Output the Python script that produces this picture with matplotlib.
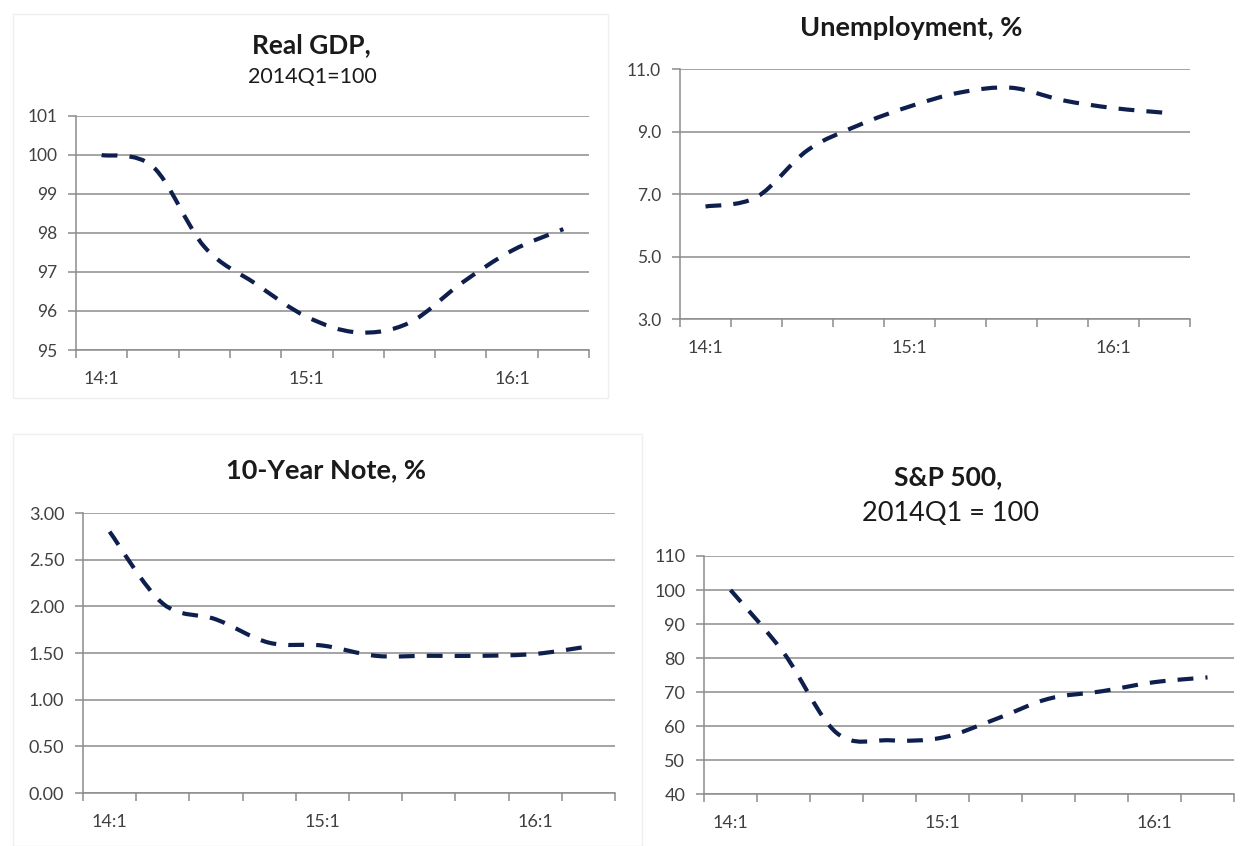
import matplotlib
matplotlib.use("Agg")
import matplotlib.pyplot as plt
from matplotlib.path import Path
from matplotlib.patches import PathPatch, Rectangle
from matplotlib.ticker import FixedLocator, NullFormatter, FixedFormatter

plt.rcParams['font.family'] = ['Lato', 'DejaVu Sans']

quarters = ["14:1", "14:2", "14:3", "14:4", "15:1", "15:2", "15:3", "15:4", "16:1", "16:2"]
label_quarters = ["14:1", "15:1", "16:1"]

gdp = [100.0, 99.7, 97.65, 96.7, 95.85, 95.45, 95.7, 96.7, 97.55, 98.1]
unemployment = [6.6, 6.9, 8.4, 9.2, 9.8, 10.25, 10.4, 10.0, 9.75, 9.6]
note10 = [2.80, 2.03, 1.86, 1.61, 1.58, 1.47, 1.47, 1.47, 1.49, 1.57]
sp500 = [100.0, 81.6, 58.0, 55.8, 56.6, 62.0, 68.0, 70.2, 72.9, 74.3]

W, H = 1248, 846
fig = plt.figure(figsize=(W / 100, H / 100), dpi=100)
fig.patch.set_facecolor("white")

LINE_COLOR = "#0f1f4d"
GRID_COLOR = "#8c8c8c"
TICK_COLOR = "#404040"


def px_axes(x0, y0, x1, y1):
    return fig.add_axes([x0 / W, 1 - y1 / H, (x1 - x0) / W, (y1 - y0) / H])


def smooth_path(xs, ys):
    pts = list(zip(xs, ys))
    n = len(pts)
    verts = [pts[0]]
    codes = [Path.MOVETO]
    for i in range(n - 1):
        p0 = pts[i - 1] if i > 0 else pts[i]
        p1 = pts[i]
        p2 = pts[i + 1]
        p3 = pts[i + 2] if i + 2 < n else pts[i + 1]
        c1 = (p1[0] + (p2[0] - p0[0]) / 6, p1[1] + (p2[1] - p0[1]) / 6)
        c2 = (p2[0] - (p3[0] - p1[0]) / 6, p2[1] - (p3[1] - p1[1]) / 6)
        verts += [c1, c2, p2]
        codes += [Path.CURVE4] * 3
    return Path(verts, codes)


def panel(box, values, yticks, ylabels, ytick_size, xtick_size):
    ax = px_axes(*box)
    n = len(quarters)
    xs = list(range(n))
    ax.set_xlim(-0.5, n - 0.5)
    ax.set_ylim(yticks[0], yticks[-1])
    patch = PathPatch(smooth_path(xs, values), fill=False, edgecolor=LINE_COLOR,
                      linewidth=3.0, linestyle=(0, (3.8, 2.9)), capstyle='butt',
                      clip_on=False, zorder=3)
    ax.add_patch(patch)
    for s in ["top", "right"]:
        ax.spines[s].set_visible(False)
    for s in ["left", "bottom"]:
        ax.spines[s].set_color(GRID_COLOR)
        ax.spines[s].set_linewidth(1.1)
    ax.set_yticks(yticks)
    ax.set_yticklabels(ylabels)
    ax.yaxis.grid(True, color=GRID_COLOR, linewidth=1.1)
    ax.set_axisbelow(True)
    ax.tick_params(axis='y', length=5.5, width=1.1, color=GRID_COLOR,
                   labelsize=ytick_size, labelcolor=TICK_COLOR, pad=8)
    bounds = [i - 0.5 for i in range(n + 1)]
    ax.xaxis.set_major_locator(FixedLocator(bounds))
    ax.xaxis.set_major_formatter(NullFormatter())
    lab_pos = [quarters.index(q) for q in label_quarters]
    ax.xaxis.set_minor_locator(FixedLocator(lab_pos))
    ax.xaxis.set_minor_formatter(FixedFormatter(label_quarters))
    ax.tick_params(axis='x', which='major', length=6, width=1.1, color=GRID_COLOR)
    ax.tick_params(axis='x', which='minor', length=0, labelsize=xtick_size,
                   labelcolor=TICK_COLOR, pad=15)
    return ax


panel((76, 116, 589, 350), gdp, [95, 96, 97, 98, 99, 100, 101],
      ["95", "96", "97", "98", "99", "100", "101"], 12.5, 13)
panel((680, 69, 1190, 319), unemployment, [3.0, 5.0, 7.0, 9.0, 11.0],
      ["3.0", "5.0", "7.0", "9.0", "11.0"], 12.5, 13)
panel((83, 513, 615, 793), note10, [0.0, 0.5, 1.0, 1.5, 2.0, 2.5, 3.0],
      ["0.00", "0.50", "1.00", "1.50", "2.00", "2.50", "3.00"], 13, 13)
panel((704, 556, 1234, 794), sp500, [40, 50, 60, 70, 80, 90, 100, 110],
      ["40", "50", "60", "70", "80", "90", "100", "110"], 13, 13)


def ftext(x, y, s, **kw):
    fig.text(x / W, 1 - y / H, s, ha='center', va='center', color="#1a1a1a", **kw)


ftext(311, 45, "Real GDP,", fontsize=19, fontweight='bold')
ftext(312, 77, "2014Q1=100", fontsize=15.5)
ftext(911, 28, "Unemployment, %", fontsize=19.5, fontweight='bold')
ftext(326, 470, "10-Year Note, %", fontsize=19.5, fontweight='bold')
ftext(948, 477, "S&P 500,", fontsize=19, fontweight='bold')
ftext(950, 513, "2014Q1 = 100", fontsize=19.5)

# faint chart-area borders
for (x0, y0, x1, y1) in [(13, 14, 608, 398), (13, 434, 642, 846)]:
    fig.patches.append(Rectangle((x0 / W, 1 - y1 / H), (x1 - x0) / W, (y1 - y0) / H,
                                 transform=fig.transFigure, fill=False,
                                 edgecolor="#efefef", linewidth=1.0, zorder=0))

fig.savefig("out.png", dpi=100, facecolor="white")
